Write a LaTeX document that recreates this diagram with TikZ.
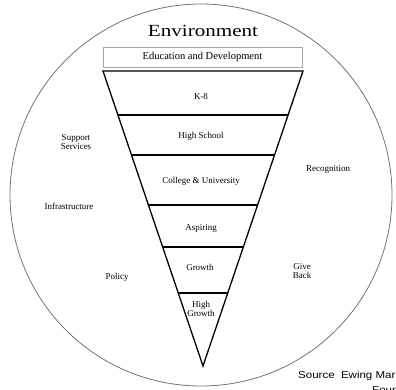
\documentclass[tikz,border=0pt]{standalone}
\usepackage{fontspec}
\setmainfont{Liberation Serif}
\setsansfont{Liberation Sans}
\usetikzlibrary{calc}

\tikzset{
  lbl/.style={anchor=center, color=black, font=\fontsize{9}{10}\selectfont, align=center, inner sep=1pt},
  tier/.style={line width=1.3pt, black},
  srcnote/.style={anchor=base west, inner sep=0pt, font=\sffamily\fontsize{10}{12}\selectfont, xscale=1.15},
}

\begin{document}
\begin{tikzpicture}[x=1pt, y=-1pt]
\useasboundingbox (0,0) rectangle (396,389);

% outer circle
\draw[line width=0.8pt, black!55] (201,195) circle (191);

% title and header box
\node[anchor=center, color=black, font=\fontsize{17}{20}\selectfont, xscale=1.24] (env) at (203,31) {Environment};
\draw[line width=0.7pt, black!35] (103,47) rectangle (302,67);
\node[lbl, font=\fontsize{10.5}{12}\selectfont] (edu) at (202.5,57) {Education and Development};

% funnel
\coordinate (tl) at (103,71);
\coordinate (tr) at (303,71);
\coordinate (tip) at (203,366);
\draw[tier, line join=miter] (tl) -- (tr) -- (tip) -- cycle;
\foreach \t [count=\i] in {0.149, 0.285, 0.454, 0.597, 0.753} {
  \draw[tier] ($(tl)!\t!(tip)$) coordinate (l\i) -- ($(tr)!\t!(tip)$) coordinate (r\i);
}

% tiers
\node[lbl] (k8) at (201,97) {K-8};
\node[lbl] (hs) at (201,136) {High School};
\node[lbl] (col) at (201,181) {College \& University};
\node[lbl] (asp) at (201,228) {Aspiring};
\node[lbl] (gro) at (200,267) {Growth};
\node[lbl] (hgr) at (201,309) {High\\[-1pt]Growth};

% surroundings
\node[lbl] (sup) at (76,142) {Support\\[-1pt]Services};
\node[lbl] (inf) at (69,206) {Infrastructure};
\node[lbl] (pol) at (117,277) {Policy};
\node[lbl] (rec) at (328,169) {Recognition};
\node[lbl] (give) at (302,271) {Give\\[-1pt]Back};

% source, cut by the page edge as in the scan
\begin{scope}
\clip (0,0) rectangle (396,389);
\node[srcnote] (src) at (298,378) {Source\ \ Ewing Marion Kauffman};
\node[srcnote] (fnd) at (372,393) {Foundation};
\end{scope}

\end{tikzpicture}
\end{document}
